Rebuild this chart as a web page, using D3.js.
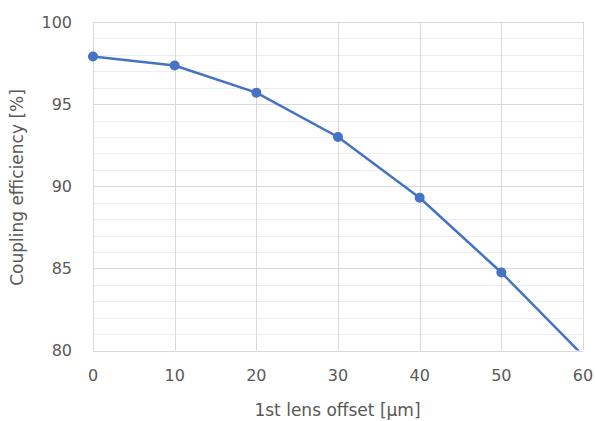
<!DOCTYPE html>
<html><head><meta charset="utf-8">
<script src="https://cdn.jsdelivr.net/npm/d3@7"></script>
<style>body{margin:0;background:#fff}svg{display:block}text{font-family:"DejaVu Sans","Noto Sans",sans-serif;fill:#595959}</style>
</head><body><svg id="c" width="595" height="421"></svg>
<script>
const offsets = [0, 10, 20, 30, 40, 50, 60];
const efficiency = [97.9, 97.35, 95.7, 93.0, 89.3, 84.75, 79.7];
const xTicks = [0, 10, 20, 30, 40, 50, 60];
const yTicks = [80, 85, 90, 95, 100];
const yMinor = d3.range(80, 101, 1);
const xTitle = "1st lens offset [μm]";
const yTitle = "Coupling efficiency [%]";

const svg = d3.select("#c");
const m = {l: 93, r: 583, t: 22, b: 350.5};
const x = d3.scaleLinear().domain([0, 60]).range([m.l, m.r]);
const y = d3.scaleLinear().domain([80, 100]).range([m.b, m.t]);

const g = svg.append("g");
g.selectAll(".mn").data(yMinor.filter(v => v % 5 !== 0)).join("line")
  .attr("x1", m.l).attr("x2", m.r).attr("y1", d => Math.round(y(d)) + 0.5).attr("y2", d => Math.round(y(d)) + 0.5)
  .attr("stroke", "#ededed").attr("stroke-width", 1);
g.selectAll(".mj").data(yTicks).join("line")
  .attr("x1", m.l).attr("x2", m.r).attr("y1", d => Math.round(y(d)) + 0.5).attr("y2", d => Math.round(y(d)) + 0.5)
  .attr("stroke", "#d9d9d9").attr("stroke-width", 1);
g.selectAll(".vx").data(xTicks).join("line")
  .attr("y1", m.t).attr("y2", m.b).attr("x1", d => Math.round(x(d)) + 0.5).attr("x2", d => Math.round(x(d)) + 0.5)
  .attr("stroke", "#d9d9d9").attr("stroke-width", 1);

svg.selectAll(".yl").data(yTicks).join("text")
  .attr("x", 72).attr("y", d => y(d)).attr("dy", "0.36em").attr("text-anchor", "end")
  .attr("font-size", 16).text(d => d);
svg.selectAll(".xl").data(xTicks).join("text")
  .attr("x", d => x(d)).attr("y", 375).attr("dy", "0.36em").attr("text-anchor", "middle")
  .attr("font-size", 16).text(d => d);
svg.append("text").attr("x", 337.5).attr("y", 410).attr("dy", "0.36em")
  .attr("text-anchor", "middle").attr("font-size", 17).text(xTitle);
svg.append("text").attr("transform", `translate(17,187.5) rotate(-90)`).attr("dy", "0.36em")
  .attr("text-anchor", "middle").attr("font-size", 17).text(yTitle);

svg.append("clipPath").attr("id", "pc").append("rect")
  .attr("x", m.l - 10).attr("y", m.t - 10).attr("width", m.r - m.l + 20).attr("height", m.b - m.t + 10);
const data = offsets.map((o, i) => [o, efficiency[i]]);
const pg = svg.append("g").attr("clip-path", "url(#pc)");
pg.append("path").datum(data)
  .attr("d", d3.line().x(d => x(d[0])).y(d => y(d[1])))
  .attr("fill", "none").attr("stroke", "#4472C4").attr("stroke-width", 2.5).attr("stroke-linejoin", "round");
pg.selectAll("circle").data(data.filter(d => d[1] >= 80)).join("circle")
  .attr("cx", d => x(d[0])).attr("cy", d => y(d[1])).attr("r", 5).attr("fill", "#4472C4");
</script></body></html>
